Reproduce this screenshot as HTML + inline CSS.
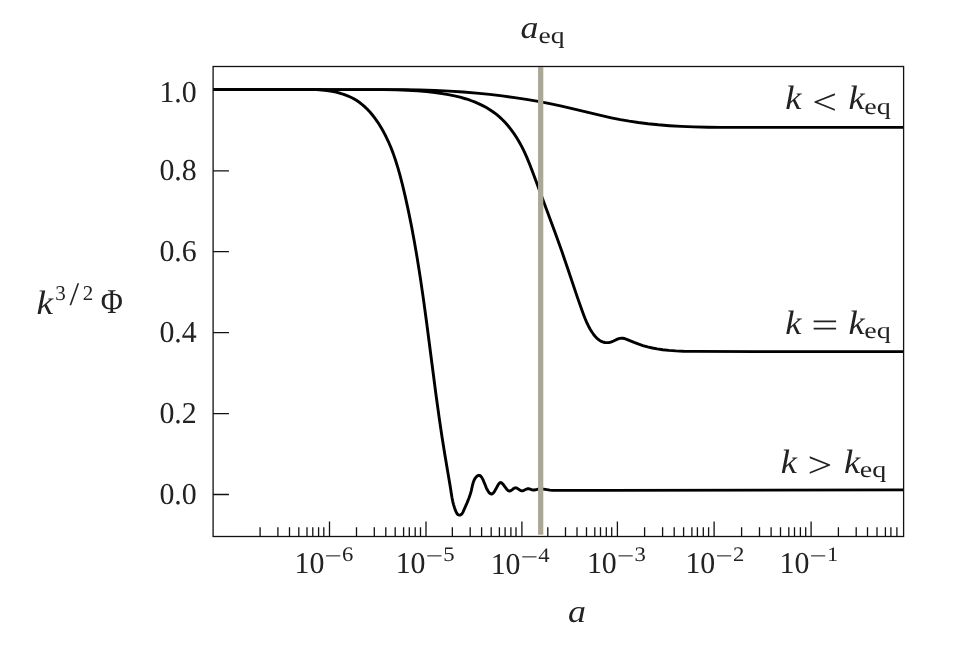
<!DOCTYPE html>
<html lang="en"><head><meta charset="utf-8"><title>Evolution of the gravitational potential</title>
<style>
html,body{margin:0;padding:0;background:#fff;}
body{width:954px;height:648px;overflow:hidden;}
svg{display:block;}
text{text-rendering:geometricPrecision;}
</style></head><body>
<svg width="954" height="648" viewBox="0 0 954 648">
<rect width="954" height="648" fill="#fff"/>
<path d="M213.05 89.60 L403.39 89.63 L419.44 89.92 L434.77 90.43 L449.38 91.14 L463.28 92.05 L476.46 93.13 L489.64 94.43 L502.11 95.89 L514.58 97.57 L526.34 99.38 L538.10 101.41 L549.85 103.67 L561.60 106.17 L575.41 109.39 L599.58 115.19 L611.32 117.80 L620.30 119.60 L629.29 121.17 L638.27 122.52 L647.96 123.74 L658.34 124.81 L669.42 125.70 L681.20 126.41 L693.69 126.92 L708.28 127.28 L720.81 127.40 L903.55 127.40" fill="none" stroke="#000" stroke-width="2.9" stroke-linejoin="round"/>
<path d="M213.05 89.60 L383.10 89.62 L396.39 89.86 L407.59 90.29 L417.41 90.88 L426.54 91.65 L434.99 92.59 L442.02 93.56 L448.32 94.62 L454.55 95.89 L460.02 97.21 L465.40 98.73 L470.03 100.24 L474.56 101.94 L478.99 103.83 L482.70 105.62 L486.31 107.56 L489.83 109.68 L493.23 111.98 L496.53 114.46 L499.70 117.14 L502.74 120.01 L505.65 123.06 L508.43 126.25 L511.08 129.58 L513.99 133.60 L516.71 137.75 L519.24 141.98 L521.91 146.90 L524.37 151.91 L526.94 157.62 L529.85 164.69 L533.57 174.46 L545.52 206.69 L555.53 233.76 L561.91 251.58 L567.78 268.72 L577.49 297.60 L582.31 311.30 L584.75 317.80 L586.67 322.34 L588.54 326.23 L590.32 329.46 L591.90 332.02 L593.63 334.48 L595.03 336.22 L596.50 337.81 L598.06 339.23 L599.70 340.45 L601.42 341.42 L602.61 341.91 L603.83 342.28 L605.07 342.53 L606.34 342.65 L607.63 342.63 L608.93 342.49 L610.24 342.22 L611.55 341.81 L613.52 340.99 L617.47 339.18 L618.79 338.69 L620.11 338.34 L621.44 338.17 L622.76 338.22 L624.09 338.48 L626.08 339.13 L634.09 342.46 L638.80 344.23 L642.85 345.57 L647.60 346.90 L652.38 348.01 L657.17 348.92 L662.67 349.73 L668.89 350.41 L675.82 350.90 L683.48 351.21 L694.65 351.37 L755.60 351.60 L903.55 351.60" fill="none" stroke="#000" stroke-width="2.9" stroke-linejoin="round"/>
<path d="M213.05 89.60 L316.35 89.63 L321.96 90.02 L326.90 90.56 L331.87 91.33 L336.10 92.20 L340.28 93.27 L343.70 94.33 L347.03 95.56 L350.27 96.96 L353.38 98.55 L356.37 100.32 L359.23 102.27 L361.96 104.37 L364.58 106.63 L367.08 109.03 L369.94 112.06 L372.64 115.25 L375.19 118.58 L378.00 122.60 L380.61 126.73 L383.40 131.57 L385.97 136.51 L388.35 141.54 L390.82 147.29 L393.08 153.14 L395.38 159.73 L397.69 167.07 L399.98 175.17 L402.43 184.70 L405.50 197.69 L408.50 211.40 L411.42 225.83 L414.37 241.66 L417.22 258.22 L420.18 276.88 L423.22 297.65 L426.72 323.30 L435.72 392.69 L439.16 417.64 L442.14 437.72 L445.03 455.68 L449.82 484.02 L451.92 497.20 L452.72 501.28 L453.55 504.62 L454.58 507.93 L455.86 511.38 L456.48 512.76 L456.85 513.39 L457.27 513.95 L457.75 514.42 L458.29 514.77 L458.87 515.00 L459.48 515.09 L460.08 515.03 L460.66 514.84 L461.20 514.52 L461.69 514.10 L462.12 513.59 L462.85 512.37 L466.95 503.09 L468.99 498.00 L470.32 494.14 L471.27 490.77 L472.73 484.30 L473.33 482.19 L474.09 480.21 L474.71 478.98 L475.44 477.85 L476.30 476.83 L477.30 475.95 L477.84 475.61 L478.38 475.39 L478.91 475.31 L479.42 475.37 L479.92 475.57 L480.40 475.89 L480.86 476.32 L481.30 476.83 L482.13 478.06 L483.23 480.21 L484.68 483.74 L486.21 487.52 L487.16 489.51 L488.33 491.53 L489.20 492.69 L489.66 493.17 L490.13 493.55 L490.61 493.83 L491.09 493.98 L491.58 493.99 L492.07 493.86 L492.55 493.61 L493.03 493.23 L493.50 492.76 L494.40 491.56 L495.69 489.35 L497.75 485.48 L498.56 484.19 L498.98 483.65 L499.39 483.20 L499.81 482.86 L500.24 482.64 L500.67 482.55 L501.12 482.61 L501.57 482.82 L502.03 483.16 L502.97 484.16 L504.95 486.90 L506.49 488.97 L507.55 490.07 L508.09 490.49 L508.63 490.80 L509.18 490.98 L509.73 491.01 L510.29 490.88 L510.85 490.62 L511.98 489.84 L513.72 488.52 L514.31 488.17 L514.90 487.93 L515.50 487.82 L516.09 487.88 L516.70 488.07 L517.30 488.37 L519.77 490.00 L520.39 490.36 L521.02 490.64 L521.65 490.81 L522.28 490.83 L522.92 490.73 L523.56 490.52 L526.14 489.25 L526.79 488.99 L527.45 488.80 L528.10 488.73 L528.76 488.78 L529.42 488.92 L532.09 489.80 L532.76 489.96 L533.43 490.03 L534.10 490.01 L535.45 489.79 L538.16 489.12 L539.52 488.94 L541.57 488.91 L543.63 489.10 L549.83 490.10 L552.60 490.35 L606.55 490.35 L903.55 489.90" fill="none" stroke="#000" stroke-width="2.9" stroke-linejoin="round"/>
<rect x="538.05" y="67.2" width="5.25" height="467.5" fill="#aba797"/>
<rect x="213.1" y="66.5" width="690.5" height="470.0" fill="none" stroke="#111" stroke-width="1.3"/>
<path d="M260.10 536.45V527.25M277.90 536.45V527.25M289.50 536.45V527.25M298.80 536.45V527.25M307.00 536.45V527.25M312.80 536.45V527.25M318.60 536.45V527.25M323.80 536.45V527.25M356.50 536.45V527.25M374.30 536.45V527.25M385.80 536.45V527.25M395.20 536.45V527.25M403.60 536.45V527.25M409.30 536.45V527.25M415.20 536.45V527.25M420.50 536.45V527.25M452.35 536.45V527.25M470.20 536.45V527.25M481.60 536.45V527.25M491.20 536.45V527.25M499.40 536.45V527.25M505.10 536.45V527.25M510.90 536.45V527.25M516.00 536.45V527.25M547.80 536.45V527.25M565.50 536.45V527.25M577.00 536.45V527.25M586.50 536.45V527.25M594.80 536.45V527.25M600.50 536.45V527.25M606.30 536.45V527.25M611.70 536.45V527.25M644.60 536.45V527.25M662.60 536.45V527.25M674.20 536.45V527.25M683.60 536.45V527.25M691.90 536.45V527.25M697.40 536.45V527.25M703.30 536.45V527.25M708.60 536.45V527.25M741.60 536.45V527.25M759.50 536.45V527.25M771.10 536.45V527.25M780.50 536.45V527.25M788.80 536.45V527.25M794.50 536.45V527.25M800.40 536.45V527.25M805.70 536.45V527.25M838.40 536.45V527.25M856.20 536.45V527.25M867.50 536.45V527.25M877.00 536.45V527.25M885.40 536.45V527.25M890.90 536.45V527.25M896.90 536.45V527.25M329.50 536.45V521.45M426.00 536.45V521.45M521.90 536.45V521.45M617.40 536.45V521.45M714.10 536.45V521.45M811.10 536.45V521.45M213.05 494.50H228.95M213.05 413.60H228.95M213.05 332.65H228.95M213.05 251.70H228.95M213.05 170.80H228.95" fill="none" stroke="#111" stroke-width="1.3"/>
<g font-family="'Liberation Serif', 'DejaVu Serif', serif" fill="#222">
<text transform="translate(159.40 102.00) scale(0.985 1)" font-size="30.30" >1.0</text>
<text transform="translate(159.40 503.90) scale(0.985 1)" font-size="30.30" >0.0</text>
<text transform="translate(159.40 423.00) scale(0.985 1)" font-size="30.30" >0.2</text>
<text transform="translate(159.40 342.05) scale(0.985 1)" font-size="30.30" >0.4</text>
<text transform="translate(159.40 261.10) scale(0.985 1)" font-size="30.30" >0.6</text>
<text transform="translate(159.40 180.20) scale(0.985 1)" font-size="30.30" >0.8</text>
<g>
<text transform="translate(294.60 573.00) scale(0.985 1)" font-size="30.30" >10</text>
<text transform="translate(324.60 563.00) scale(1.420 1)" font-size="21.50" >−</text>
<text transform="translate(342.10 561.20) scale(1.100 1)" font-size="20.60" >6</text>
</g>
<g>
<text transform="translate(395.70 572.70) scale(0.985 1)" font-size="30.30" >10</text>
<text transform="translate(425.70 562.70) scale(1.420 1)" font-size="21.50" >−</text>
<text transform="translate(443.20 560.90) scale(1.100 1)" font-size="20.60" >5</text>
</g>
<g>
<text transform="translate(490.70 573.60) scale(0.985 1)" font-size="30.30" >10</text>
<text transform="translate(520.70 563.60) scale(1.420 1)" font-size="21.50" >−</text>
<text transform="translate(538.20 561.80) scale(1.100 1)" font-size="20.60" >4</text>
</g>
<g>
<text transform="translate(586.90 572.70) scale(0.985 1)" font-size="30.30" >10</text>
<text transform="translate(616.90 562.70) scale(1.420 1)" font-size="21.50" >−</text>
<text transform="translate(634.40 560.90) scale(1.100 1)" font-size="20.60" >3</text>
</g>
<g>
<text transform="translate(685.40 572.70) scale(0.985 1)" font-size="30.30" >10</text>
<text transform="translate(715.40 562.70) scale(1.420 1)" font-size="21.50" >−</text>
<text transform="translate(732.90 560.90) scale(1.100 1)" font-size="20.60" >2</text>
</g>
<g>
<text transform="translate(779.60 572.70) scale(0.985 1)" font-size="30.30" >10</text>
<text transform="translate(809.60 562.70) scale(1.420 1)" font-size="21.50" >−</text>
<text transform="translate(827.10 560.90) scale(1.100 1)" font-size="20.60" >1</text>
</g>
<text transform="translate(567.90 622.20) scale(1.120 1)" font-size="32.00" font-style="italic">a</text>
<g>
<text transform="translate(520.60 37.90) scale(1.120 1)" font-size="32.00" font-style="italic">a</text>
<text transform="translate(538.60 43.40) scale(1.200 1)" font-size="23.00" >eq</text>
</g>
<g>
<text transform="translate(36.60 313.90) scale(1.100 1)" font-size="34.00" font-style="italic">k</text>
<text transform="translate(55.30 299.80) scale(1.000 1)" font-size="21.00" >3</text>
<text transform="translate(69.50 304.80) scale(1.050 1)" font-size="33.00" >/</text>
<text transform="translate(82.70 299.80) scale(1.000 1)" font-size="21.00" >2</text>
<text transform="translate(100.70 313.40) scale(0.865 1)" font-size="34.90" >Φ</text>
</g>
<g>
<text transform="translate(785.20 109.40) scale(1.080 1)" font-size="33.80" font-style="italic">k</text>
<text transform="translate(812.20 113.50) scale(1.220 1)" font-size="36.00" >&lt;</text>
<text transform="translate(848.40 109.40) scale(1.080 1)" font-size="33.80" font-style="italic">k</text>
<text transform="translate(864.20 114.00) scale(1.220 1)" font-size="23.00" >eq</text>
</g>
<g>
<text transform="translate(785.20 333.50) scale(1.080 1)" font-size="33.80" font-style="italic">k</text>
<text transform="translate(811.30 337.40) scale(1.340 1)" font-size="36.00" >=</text>
<text transform="translate(848.40 333.50) scale(1.080 1)" font-size="33.80" font-style="italic">k</text>
<text transform="translate(864.20 338.10) scale(1.220 1)" font-size="23.00" >eq</text>
</g>
<g>
<text transform="translate(780.80 472.70) scale(1.080 1)" font-size="33.80" font-style="italic">k</text>
<text transform="translate(807.40 476.80) scale(1.220 1)" font-size="36.00" >&gt;</text>
<text transform="translate(844.00 472.70) scale(1.080 1)" font-size="33.80" font-style="italic">k</text>
<text transform="translate(859.80 477.30) scale(1.220 1)" font-size="23.00" >eq</text>
</g>
</g>
</svg>
</body></html>
